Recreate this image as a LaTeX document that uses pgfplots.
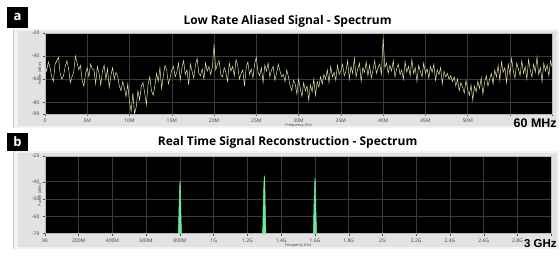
\documentclass[border=0pt]{standalone}
\usepackage{pgfplots}
\pgfplotsset{compat=1.18}
\usepackage{pgfplotstable}
\usepackage{fontspec}
\setmainfont{Open Sans}
\newfontfamily\arialfont{Liberation Sans}
\definecolor{trace}{RGB}{226,226,166}
\definecolor{gridc}{RGB}{58,58,58}
\definecolor{peak}{RGB}{112,232,160}
\definecolor{panelout}{RGB}{242,242,242}
\definecolor{panelin}{RGB}{226,226,226}

\pgfplotstableread{
y
-48
-53
-45
-50
-58
-62
-47
-44
-41
-55
-60
-57
-49
-44
-51
-63
-58
-54
-40
-46
-52
-48
-61
-66
-55
-50
-58
-47
-51
-52
-64
-49
-55
-65
-53
-48
-60
-51
-67
-57
-50
-60
-54
-57
-66
-70
-62
-68
-75
-64
-80
-88
-72
-90
-84
-70
-78
-66
-63
-72
-82
-64
-58
-70
-74
-66
-55
-62
-50
-68
-57
-48
-52
-64
-59
-52
-49
-58
-54
-46
-61
-50
-44
-56
-52
-65
-47
-53
-59
-48
-42
-55
-57
-51
-60
-46
-53
-49
-56
-50
-30
-52
-47
-44
-56
-58
-50
-54
-62
-46
-53
-49
-57
-43
-48
-60
-55
-52
-66
-50
-45
-56
-51
-59
-47
-41
-54
-57
-50
-63
-48
-53
-46
-58
-52
-49
-61
-55
-47
-53
-58
-56
-62
-52
-58
-66
-70
-61
-64
-73
-60
-68
-75
-63
-70
-66
-78
-65
-71
-60
-74
-62
-67
-58
-64
-56
-60
-52
-63
-49
-58
-54
-61
-48
-56
-53
-47
-57
-53
-44
-60
-49
-55
-42
-58
-51
-46
-62
-50
-54
-45
-57
-48
-59
-52
-44
-55
-50
-47
-56
-24
-50
-46
-55
-48
-53
-44
-58
-51
-47
-56
-52
-60
-45
-54
-49
-57
-43
-55
-50
-62
-48
-53
-58
-46
-55
-51
-59
-49
-54
-47
-61
-52
-56
-50
-64
-53
-58
-55
-60
-57
-62
-58
-66
-60
-70
-63
-67
-72
-61
-69
-74
-65
-78
-66
-71
-62
-68
-59
-73
-63
-57
-66
-60
-55
-64
-52
-58
-48
-61
-45
-54
-50
-63
-47
-56
-42
-53
-59
-46
-51
-57
-44
-55
-49
-60
-43
-52
-58
-47
-54
-41
-56
-50
-62
-46
-53
-48
-57
-44
-50
}\spectrumA

\pgfplotsset{specax/.style={
  scale only axis,
  axis background/.style={fill=black},
  grid=major,
  major grid style={gridc, line width=0.5pt},
  axis line style={gray!55},
  tick style={black!70, line width=0.4pt},
  tick align=outside,
  major tick length=2pt,
  xtick pos=bottom, ytick pos=left,
  tick label style={font=\fontsize{5}{6}\selectfont, text=black!75},
  /pgf/number format/assume math mode=true,
  xlabel style={font=\fontsize{3.8}{4}\selectfont, text=black!75, inner sep=0pt},
  ylabel style={font=\fontsize{3.8}{4}\selectfont, text=black!75, inner sep=0pt},
  xticklabel style={yshift=0.5pt},
}}

\begin{document}
\begin{tikzpicture}
% background and panels
\fill[white] (0pt,0pt) rectangle (560pt,-260pt);
\fill[panelout] (13pt,-29pt) rectangle (560pt,-128pt);
\draw[gray!35] (13pt,-29pt) -- (13pt,-128pt);
\fill[panelin] (18pt,-31pt) rectangle (558pt,-126pt);
\fill[panelout] (13pt,-151pt) rectangle (560pt,-249pt);
\draw[gray!35] (13pt,-151pt) -- (13pt,-249pt);
\fill[panelin] (18pt,-153pt) rectangle (558pt,-247pt);
\fill[black] (7pt,-7pt) rectangle (28pt,-28pt);
\node[text=white, font=\bfseries\fontsize{13}{14}\selectfont] at (17.5pt,-17pt) {a};
\fill[black] (7pt,-133pt) rectangle (28pt,-151pt);
\node[text=white, font=\bfseries\fontsize{13}{14}\selectfont] at (17.5pt,-141.5pt) {b};
\node[font=\bfseries\fontsize{12}{13}\selectfont] at (288pt,-21pt) {Low Rate Aliased Signal - Spectrum};
\node[font=\bfseries\fontsize{12}{13}\selectfont] at (288pt,-143pt) {Real Time Signal Reconstruction - Spectrum};

\begin{axis}[specax,
  at={(45pt,-114pt)}, anchor=south west,
  width=508pt, height=81pt,
  xmin=0, xmax=60, ymin=-90, ymax=-20,
  xtick={0,5,10,15,20,25,30,35,40,45,50,55,60},
  xticklabels={0,5M,10M,15M,20M,25M,30M,35M,40M,45M,50M,{},{}},
  ytick={-20,-40,-60,-80,-90},
  yticklabels={-20,-40,-60,-80,-90},
  xlabel={Frequency (Hz)}, ylabel={Power (dBm)},
  xlabel style={at={(axis description cs:0.5,0)}, yshift=-10pt},
  ylabel style={at={(axis description cs:0,0.5)}, yshift=3pt},
]
\addplot[trace, line width=0.5pt] table[x expr=\coordindex*0.2, y=y] {\spectrumA};
\end{axis}

\begin{axis}[specax,
  at={(45pt,-234pt)}, anchor=south west,
  width=507pt, height=78pt,
  xmin=0, xmax=3000, ymin=-70, ymax=-25,
  xtick={0,200,400,600,800,1000,1200,1400,1600,1800,2000,2200,2400,2600,2800,3000},
  xticklabels={90,200M,400M,600M,800M,1G,1.2G,1.4G,1.6G,1.8G,2G,2.2G,2.4G,2.6G,2.8G,{}},
  ytick={-25,-40,-50,-60,-70},
  yticklabels={-25,-40,-50,-60,-70},
  xlabel={Frequency (Hz)}, ylabel={Power (dBm)},
  xlabel style={at={(axis description cs:0.5,0)}, yshift=-10pt},
  ylabel style={at={(axis description cs:0,0.5)}, yshift=3pt},
]
\addplot[draw=peak, fill=peak, line width=0.5pt] coordinates {
 (786,-75) (791,-68) (794,-56) (797,-46) (799,-42) (800,-39.5) (802,-41) (804,-47) (806,-58) (809,-69) (813,-75)};
\addplot[draw=peak, fill=peak, line width=0.5pt] coordinates {
 (1286,-75) (1291,-66) (1294,-52) (1297,-42) (1299,-38) (1300,-36.5) (1302,-38) (1304,-45) (1306,-57) (1309,-68) (1313,-75)};
\addplot[draw=peak, fill=peak, line width=0.5pt] coordinates {
 (1586,-75) (1591,-67) (1594,-54) (1597,-44) (1599,-40) (1600,-38) (1602,-39.5) (1604,-46) (1606,-57) (1609,-68) (1613,-75)};
\end{axis}

\node[anchor=base east, font=\arialfont\bfseries\fontsize{12.5}{13}\selectfont] at (561pt,-128pt) {60 MHz};
\node[anchor=base east, font=\arialfont\bfseries\fontsize{11.5}{13}\selectfont] at (561pt,-248pt) {3 GHz};
\end{tikzpicture}
\end{document}
